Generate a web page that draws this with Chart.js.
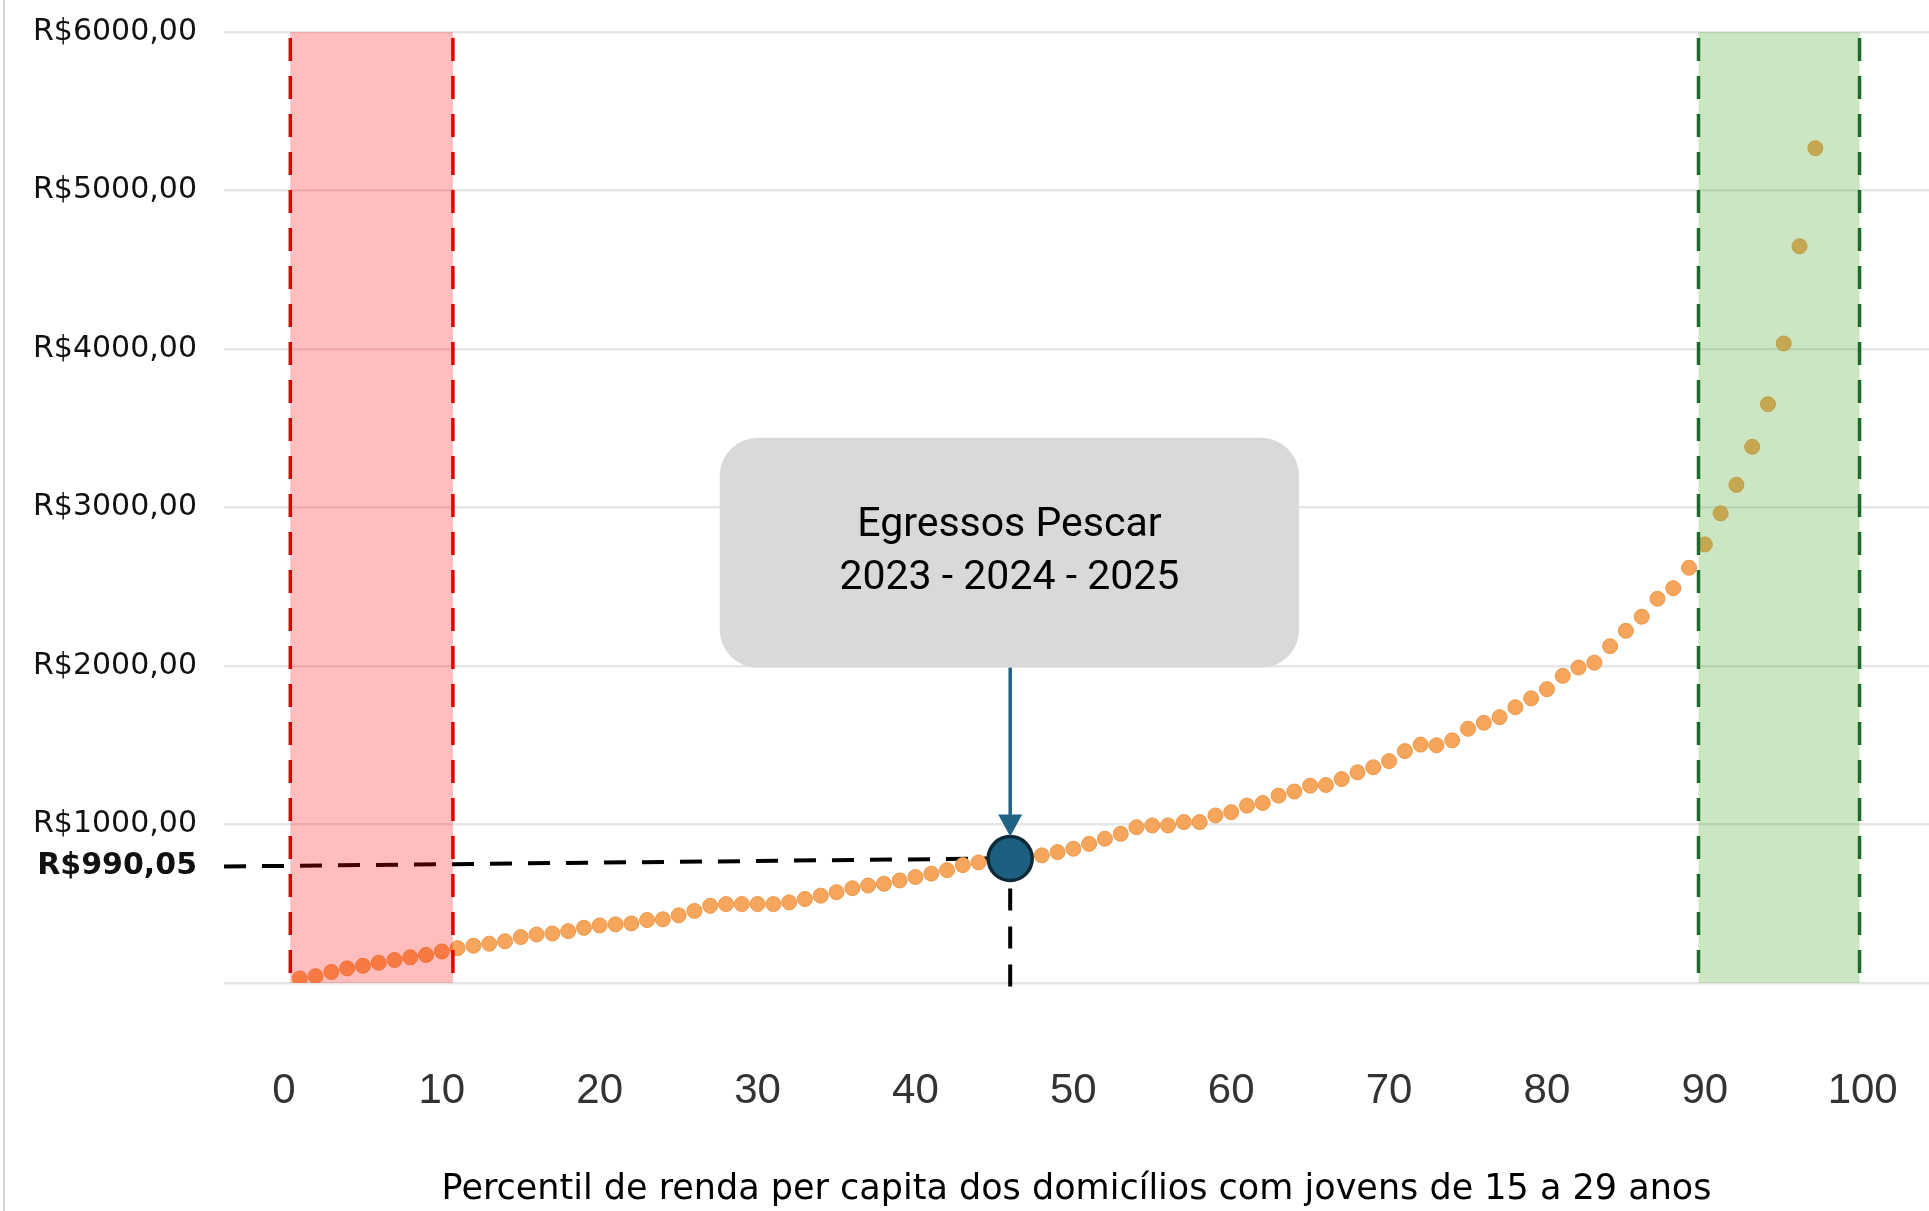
<!DOCTYPE html>
<html>
<head>
<meta charset="utf-8">
<script src="https://cdn.jsdelivr.net/npm/chart.js@4.4.1/dist/chart.umd.min.js"></script>
<style>
  html, body { margin: 0; padding: 0; background: #fff; }
  canvas { display: block; }
</style>
</head>
<body>
<canvas id="rendaChart" width="1929" height="1211"></canvas>
<script>
// Percentis (eixo x) e renda per capita
const percentis = [
  1, 2, 3, 4, 5, 6, 7, 8, 9, 10,
  11, 12, 13, 14, 15, 16, 17, 18, 19, 20,
  21, 22, 23, 24, 25, 26, 27, 28, 29, 30,
  31, 32, 33, 34, 35, 36, 37, 38, 39, 40,
  41, 42, 43, 44, 45, 46, 47, 48, 49, 50,
  51, 52, 53, 54, 55, 56, 57, 58, 59, 60,
  61, 62, 63, 64, 65, 66, 67, 68, 69, 70,
  71, 72, 73, 74, 75, 76, 77, 78, 79, 80,
  81, 82, 83, 84, 85, 86, 87, 88, 89, 90,
  91, 92, 93, 94, 95, 96, 97
];
const rendas = [
  28, 43, 70, 92, 109, 128, 145, 162, 177, 199,
  220, 235, 248, 263, 290, 306, 312, 327, 348, 363,
  370, 376, 397, 402, 427, 455, 487, 498, 498, 498,
  498, 509, 530, 551, 573, 598, 615, 626, 647, 669,
  690, 712, 744, 761, 776, 785, 795, 805, 826, 847,
  878, 910, 941, 983, 994, 994, 1015, 1015, 1057, 1078,
  1119, 1136, 1182, 1208, 1245, 1249, 1287, 1329, 1361, 1400,
  1463, 1504, 1500, 1531, 1604, 1642, 1677, 1740, 1796, 1854,
  1938, 1990, 2021, 2125, 2222, 2311, 2424, 2491, 2620, 2767,
  2963, 3143, 3383, 3652, 4035, 4648, 5267
];

const xTicks = [0, 10, 20, 30, 40, 50, 60, 70, 80, 90, 100];
const yTicks = [1000, 2000, 3000, 4000, 5000, 6000];
const yTickLabels = ['R$1000,00', 'R$2000,00', 'R$3000,00', 'R$4000,00', 'R$5000,00', 'R$6000,00'];

// Egressos Pescar
const destaquePercentil = 46;
const destaqueValor = 785;
const destaqueRotulo = 'R$990,05';
const rotuloValor = 735;

// faixas: 10% mais pobres / 10% mais ricos
const faixaBaixa = [0.4, 10.7];
const faixaAlta = [89.6, 99.8];

const caixaTexto = ['Egressos Pescar', '2023 - 2024 - 2025'];
const caixa = { x0: 27.6, x1: 64.3, y0: 1990, y1: 3440 };

const overlay = {
  id: 'overlay',
  beforeDraw(chart) {
    const ctx = chart.ctx;
    ctx.save();
    ctx.strokeStyle = '#d4d4d4';
    ctx.lineWidth = 2;
    ctx.beginPath();
    ctx.moveTo(4, 0);
    ctx.lineTo(4, chart.height);
    ctx.stroke();
    ctx.restore();
  },
  beforeDatasetsDraw(chart) {
    const { ctx, chartArea, scales: { x, y } } = chart;
    const px = x.getPixelForValue(destaquePercentil);
    const py = y.getPixelForValue(destaqueValor);
    ctx.save();
    ctx.strokeStyle = '#000';
    ctx.lineWidth = 4;
    ctx.setLineDash([22, 16]);
    ctx.beginPath();
    ctx.moveTo(chartArea.left, y.getPixelForValue(rotuloValor));
    ctx.lineTo(px - 22, py);
    ctx.stroke();
    ctx.beginPath();
    ctx.moveTo(px, py + 30);
    ctx.lineTo(px, y.getPixelForValue(0) + 4);
    ctx.stroke();
    ctx.restore();
  },
  afterDatasetsDraw(chart) {
    const { ctx, scales: { x, y } } = chart;
    const top = y.getPixelForValue(6000);
    const bottom = y.getPixelForValue(0);

    // bands
    const bands = [
      { r: faixaBaixa, fill: 'rgba(255, 0, 0, 0.26)', line: '#e00000' },
      { r: faixaAlta, fill: 'rgba(85, 172, 58, 0.30)', line: '#1c6b28' }
    ];
    bands.forEach(b => {
      const l = x.getPixelForValue(b.r[0]);
      const r = x.getPixelForValue(b.r[1]);
      ctx.save();
      ctx.fillStyle = b.fill;
      ctx.fillRect(l, top, r - l, bottom - top);
      ctx.strokeStyle = b.line;
      ctx.lineWidth = 3.5;
      ctx.setLineDash([23, 15]);
      [l, r].forEach(xx => {
        ctx.beginPath();
        ctx.moveTo(xx, top + 6);
        ctx.lineTo(xx, bottom);
        ctx.stroke();
      });
      ctx.restore();
    });

    // annotation box
    const bx0 = x.getPixelForValue(caixa.x0);
    const bx1 = x.getPixelForValue(caixa.x1);
    const by0 = y.getPixelForValue(caixa.y1);
    const by1 = y.getPixelForValue(caixa.y0);
    ctx.save();
    ctx.fillStyle = '#d9d9d9';
    ctx.beginPath();
    ctx.roundRect(bx0, by0, bx1 - bx0, by1 - by0, 38);
    ctx.fill();
    ctx.fillStyle = '#000';
    ctx.font = '41px Roboto';
    ctx.textAlign = 'center';
    ctx.textBaseline = 'middle';
    const cx = (bx0 + bx1) / 2;
    const cy = (by0 + by1) / 2;
    ctx.fillText(caixaTexto[0], cx, cy - 27);
    ctx.fillText(caixaTexto[1], cx, cy + 26);

    // arrow
    const px = x.getPixelForValue(destaquePercentil);
    const tip = y.getPixelForValue(destaqueValor) - 22;
    ctx.strokeStyle = '#1f6385';
    ctx.fillStyle = '#1f6385';
    ctx.lineWidth = 3.5;
    ctx.beginPath();
    ctx.moveTo(px, by1);
    ctx.lineTo(px, tip - 18);
    ctx.stroke();
    ctx.beginPath();
    ctx.moveTo(px - 12, tip - 22);
    ctx.lineTo(px + 12, tip - 22);
    ctx.lineTo(px, tip);
    ctx.closePath();
    ctx.fill();
    ctx.restore();
  }
};

const ctx = document.getElementById('rendaChart').getContext('2d');
new Chart(ctx, {
  type: 'scatter',
  data: {
    datasets: [
      {
        label: 'Egressos',
        data: [{ x: destaquePercentil, y: destaqueValor }],
        pointRadius: 22,
        pointBackgroundColor: '#1d5f80',
        pointBorderColor: '#0e2a38',
        pointBorderWidth: 3.5,
        order: 0
      },
      {
        label: 'Renda per capita',
        data: percentis.map((p, i) => ({ x: p, y: rendas[i] })),
        pointRadius: 7.5,
        pointBackgroundColor: '#f5a55c',
        pointBorderColor: '#ec9848',
        pointBorderWidth: 1,
        order: 1
      }
    ]
  },
  options: {
    responsive: false,
    animation: false,
    devicePixelRatio: 1,
    layout: { autoPadding: false, padding: { top: 32, left: 0, right: 0, bottom: 0 } },
    plugins: {
      legend: { display: false },
      tooltip: { enabled: false }
    },
    scales: {
      x: {
        type: 'linear',
        min: -3.8,
        max: 104.2,
        afterBuildTicks: scale => { scale.ticks = xTicks.map(v => ({ value: v })); },
        afterFit: scale => {
          scale.height = 228;
          scale.paddingLeft = 0;
          scale.paddingRight = 0;
        },
        grid: {
          display: true,
          drawOnChartArea: false,
          drawTicks: true,
          tickLength: 83,
          tickColor: 'rgba(0,0,0,0)'
        },
        border: { display: false },
        ticks: {
          padding: 0,
          color: '#333',
          font: { family: 'Liberation Sans', size: 42 },
          maxRotation: 0,
          autoSkip: false
        },
        title: {
          display: true,
          text: 'Percentil de renda per capita dos domicílios com jovens de 15 a 29 anos',
          color: '#000',
          font: { family: 'DejaVu Sans', size: 35 },
          padding: { top: 0, bottom: 0 }
        }
      },
      y: {
        min: 0,
        max: 6000,
        afterBuildTicks: scale => {
          scale.ticks = [0, rotuloValor].concat(yTicks).map(v => ({ value: v }));
        },
        afterFit: scale => {
          scale.width = 224;
          scale.paddingTop = 0;
          scale.paddingBottom = 0;
        },
        grid: {
          drawTicks: false,
          lineWidth: 2.5,
          color: c => (c.tick && c.tick.value === rotuloValor) ? 'rgba(0,0,0,0)' : '#e6e6e6'
        },
        border: { display: false },
        ticks: {
          padding: 27,
          autoSkip: false,
          color: '#111',
          font: c => ({
            family: 'DejaVu Sans',
            size: 30,
            weight: (c.tick && c.tick.value === rotuloValor) ? 'bold' : 'normal'
          }),
          callback: v => {
            if (v === 0) return '';
            if (v === rotuloValor) return destaqueRotulo;
            return yTickLabels[yTicks.indexOf(v)];
          }
        }
      }
    }
  },
  plugins: [overlay]
});
</script>
</body>
</html>
